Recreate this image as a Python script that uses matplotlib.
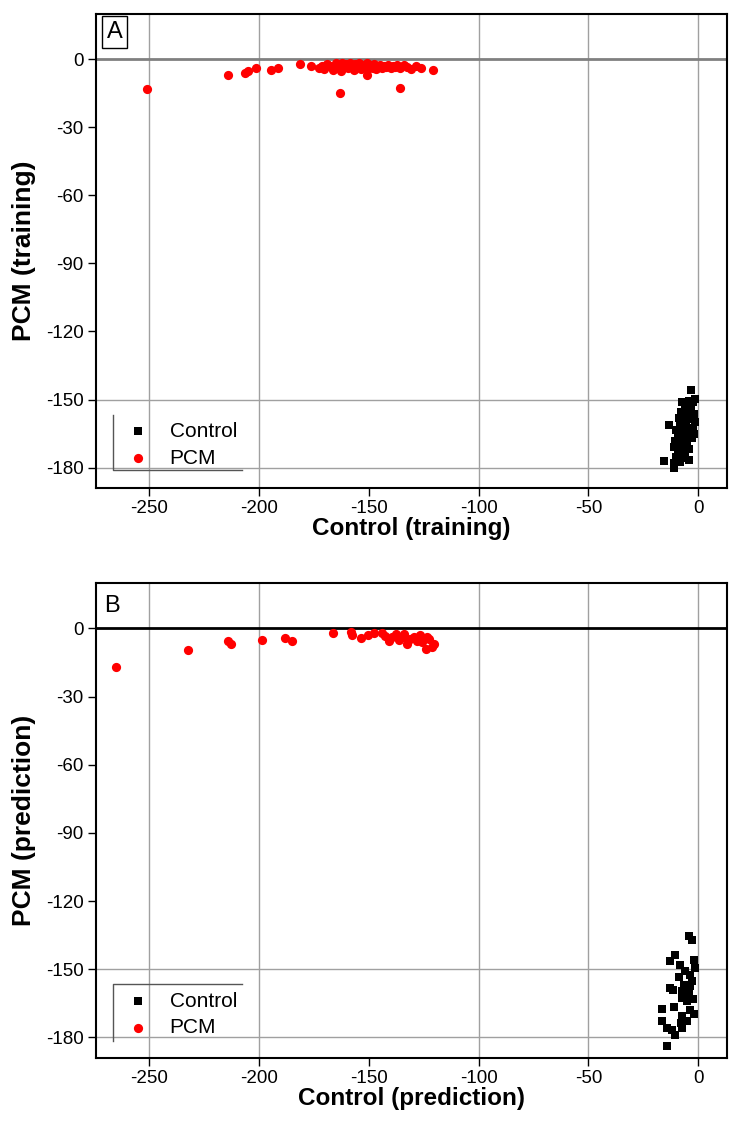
import numpy as np
import matplotlib.pyplot as plt
from matplotlib.lines import Line2D

plt.rcParams['font.family'] = ['Liberation Sans', 'DejaVu Sans']
plt.rcParams['axes.unicode_minus'] = False

# panel A (training) scores
pcm_a_x = [-250.6, -213.8, -206.2, -205.0, -201.0, -194.5, -191.0, -181.4, -176.4,
           -172.5, -171.0, -170.3, -169.0, -167.5, -166.0, -165.0, -163.8, -163.0,
           -162.7, -162.0, -161.0, -160.2, -159.5, -158.5, -157.6, -156.8, -156.0,
           -155.0, -154.2, -153.5, -152.6, -151.8, -150.9, -150.6, -150.0, -149.0,
           -148.2, -147.5, -146.5, -145.6, -144.8, -144.0, -143.0, -142.0, -141.0,
           -140.0, -139.0, -138.0, -137.0, -135.9, -135.5, -134.0, -132.5, -130.9,
           -128.5, -126.2, -120.7]
pcm_a_y = [-12.9, -7.1, -6.0, -5.1, -3.8, -4.9, -3.7, -2.2, -2.9,
           -3.6, -2.8, -4.2, -2.0, -3.0, -4.5, -1.8, -2.6, -14.7,
           -5.2, -1.5, -3.3, -2.2, -4.0, -1.6, -2.8, -4.8, -2.0,
           -3.5, -1.8, -4.4, -2.5, -3.2, -6.8, -1.7, -4.0, -2.6,
           -3.6, -2.0, -4.2, -3.0, -2.3, -3.8, -2.8, -3.4, -2.4,
           -3.7, -2.9, -3.4, -2.6, -12.5, -3.6, -2.6, -3.2, -4.1,
           -2.9, -3.7, -4.9]
ctrl_a_x = [-3.3, -1.4, -7.4, -4.5, -2.5, -6.0, -3.5, -8.0, -5.0, -2.0,
            -9.0, -6.5, -3.0, -1.5, -13.5, -8.5, -5.5, -2.5, -10.0, -7.0,
            -4.0, -1.8, -9.5, -6.0, -3.0, -10.5, -8.0, -5.0, -11.0, -7.5,
            -4.5, -9.5, -6.0, -10.0, -7.0, -4.5, -15.8, -11.0, -8.5, -10.9]
ctrl_a_y = [-145.6, -149.7, -151.2, -150.5, -151.0, -153.5, -154.0, -155.5, -156.0, -156.5,
            -158.0, -158.5, -158.8, -160.0, -161.2, -161.0, -161.5, -162.5, -163.5, -164.0,
            -164.5, -165.0, -166.0, -166.5, -167.0, -168.5, -169.0, -169.5, -171.0, -171.5,
            -172.0, -173.5, -174.0, -175.5, -176.0, -176.5, -176.9, -178.0, -177.5, -180.1]

# panel B (prediction) scores
pcm_b_x = [-264.7, -232.1, -213.8, -212.7, -198.3, -188.2, -184.7, -166.2, -158.2,
           -157.4, -153.6, -150.1, -147.6, -143.8, -142.7, -140.8, -139.5, -137.7,
           -136.0, -134.5, -133.9, -132.4, -131.0, -129.4, -128.0, -126.4, -125.5,
           -124.1, -123.5, -122.6, -121.1, -120.3]
pcm_b_y = [-16.8, -9.6, -5.7, -6.8, -5.0, -4.1, -5.4, -1.9, -1.6,
           -3.1, -4.1, -3.1, -1.9, -2.2, -3.4, -5.6, -4.0, -2.4,
           -5.0, -3.6, -2.4, -6.8, -4.8, -3.8, -5.5, -2.8, -6.2,
           -9.0, -4.0, -4.5, -8.2, -6.8]
ctrl_b_x = [-4.4, -2.9, -10.5, -12.7, -2.1, -5.9, -3.6, -12.7, -6.7, -4.4,
            -7.4, -16.5, -11.2, -3.6, -7.4, -16.5, -14.2, -10.5, -7.4, -14.2,
            -5.1, -2.1, -7.4, -5.1, -1.4, -8.5, -3.0, -9.0, -6.0, -2.5,
            -11.5, -4.0, -8.0, -12.0]
ctrl_b_y = [-135.4, -136.9, -143.8, -146.5, -145.7, -150.9, -152.3, -158.2, -156.7, -159.7,
            -162.6, -167.3, -166.7, -167.8, -170.7, -172.9, -175.9, -178.8, -175.9, -183.9,
            -172.9, -169.8, -159.7, -164.1, -149.4, -148.0, -155.0, -153.5, -161.0, -163.0,
            -159.0, -157.5, -173.5, -176.5]

xticks = [-250, -200, -150, -100, -50, 0]
yticks = [0, -30, -60, -90, -120, -150, -180]

fig = plt.figure(figsize=(7.31, 11.28), dpi=100)
axA = fig.add_axes([0.1313, 0.5674, 0.8632, 0.4202])
axB = fig.add_axes([0.1313, 0.0621, 0.8632, 0.4211])

panels = [
    (axA, pcm_a_x, pcm_a_y, ctrl_a_x, ctrl_a_y, 'Control (training)', 'PCM (training)', 'A', '#808080'),
    (axB, pcm_b_x, pcm_b_y, ctrl_b_x, ctrl_b_y, 'Control (prediction)', 'PCM (prediction)', 'B', 'black'),
]

for ax, px, py, cx, cy, xlab, ylab, tag, zcol in panels:
    ax.set_xlim(-274, 13)
    ax.set_ylim(-189, 20)
    # grid, as drawn in the original (no line at -150 on x)
    for gx in [-250, -200, -100, -50, 0]:
        ax.axvline(gx, color='#a0a0a0', lw=1, zorder=0)
    for gy in [-150, -180]:
        ax.axhline(gy, color='#a0a0a0', lw=1, zorder=0)
    ax.axhline(0, color=zcol, lw=2, zorder=1)

    ax.scatter(cx, cy, marker='s', s=40, color='black', linewidths=0, zorder=3, label='Control')
    ax.scatter(px, py, marker='o', s=44, color='red', linewidths=0, zorder=3, label='PCM')

    ax.set_xticks(xticks)
    ax.set_yticks(yticks)
    ax.tick_params(direction='out', length=6, width=1, labelsize=13.5, pad=3)
    for sp in ax.spines.values():
        sp.set_linewidth(1.5)
    ax.set_xlabel(xlab, fontsize=17.5, fontweight='bold', labelpad=0)
    ax.set_ylabel(ylab, fontsize=19, fontweight='bold', labelpad=7)

    ax.legend(loc='lower left', bbox_to_anchor=(0.021, 0.008), frameon=False,
              fontsize=15, handletextpad=0.9, handlelength=1.2, borderpad=0.3,
              labelspacing=0.38, markerscale=1.0)

    if tag == 'A':
        ax.text(0.017, 0.985, 'A', transform=ax.transAxes, fontsize=17, va='top', ha='left',
                bbox=dict(boxstyle='square,pad=0.2', fc='white', ec='black', lw=1))
        ax.add_line(Line2D([0.027, 0.027, 0.231], [0.154, 0.038, 0.038],
                           transform=ax.transAxes, color='#555555', lw=1, zorder=4))
    else:
        ax.text(0.013, 0.975, 'B', transform=ax.transAxes, fontsize=17, va='top', ha='left')
        ax.add_line(Line2D([0.231, 0.027, 0.027], [0.156, 0.156, 0.035],
                           transform=ax.transAxes, color='#555555', lw=1, zorder=4))

fig.savefig('out.png', dpi=100)
